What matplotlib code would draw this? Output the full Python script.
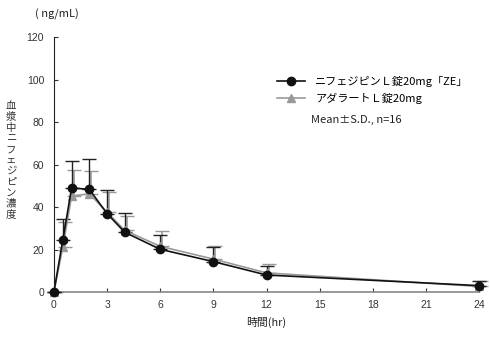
import numpy as np
import matplotlib
matplotlib.use('Agg')
import matplotlib.pyplot as plt
import matplotlib.transforms as mtransforms

plt.rcParams['font.family'] = ['Noto Sans CJK JP', 'DejaVu Sans']

# %% data
hours = [0, 0.5, 1, 2, 3, 4, 6, 9, 12, 24]
ze_mean = [0, 24.3, 49.0, 48.3, 36.9, 28.1, 20.1, 14.3, 8.0, 3.0]
ze_sd = [0, 10.2, 12.8, 14.1, 11.1, 8.9, 6.7, 6.7, 4.2, 2.3]
ref_mean = [0, 21.0, 45.2, 46.2, 37.6, 29.0, 21.5, 15.5, 9.0, 2.6]
ref_sd = [0, 12.0, 12.2, 10.8, 9.3, 7.0, 7.4, 6.3, 4.3, 2.4]

xticks = [0, 3, 6, 9, 12, 15, 18, 21, 24]
yticks = [0, 20, 40, 60, 80, 100, 120]

# %%
fig = plt.figure(figsize=(4.9, 3.37), dpi=100)
ax = fig.add_axes([0.110, 0.1335, 0.868, 0.7565])

shift = mtransforms.offset_copy(ax.transData, fig=fig, x=2, y=0, units='dots')

ax.errorbar(hours, ref_mean, yerr=[np.zeros(len(ref_sd)), ref_sd], fmt='none',
            ecolor='#999999', elinewidth=1.2, capsize=5, capthick=1.0,
            transform=shift, clip_on=False, zorder=2)
ax.errorbar(hours, ze_mean, yerr=[np.zeros(len(ze_sd)), ze_sd], fmt='none',
            ecolor='#222222', elinewidth=1.0, capsize=5, capthick=1.0,
            clip_on=False, zorder=3)

ax.plot(hours, ref_mean, color='#999999', lw=1.2, marker='^', ms=5.5,
        mfc='#999999', mec='#999999', clip_on=False, zorder=4,
        label='アダラートＬ錠20mg')
ax.plot(hours, ze_mean, color='#111111', lw=1.2, marker='o', ms=6,
        mfc='#111111', mec='#111111', clip_on=False, zorder=5,
        label='ニフェジピンＬ錠20mg「ZE」')

ax.set_xlim(0, 24)
ax.set_ylim(0, 120)
ax.set_xticks(xticks)
ax.set_yticks(yticks)
ax.tick_params(direction='in', length=3, labelsize=7.5, colors='#333333')
ax.tick_params(axis='y', pad=7)
ax.tick_params(axis='x', pad=6)
for lab in ax.get_xticklabels() + ax.get_yticklabels():
    lab.set_fontfamily(['Liberation Sans', 'DejaVu Sans'])
for s in ['top', 'right']:
    ax.spines[s].set_visible(False)
ax.spines['left'].set_color('#222222')
ax.spines['bottom'].set_color('#888888')
ax.spines['bottom'].set_linewidth(1.2)

h, l = ax.get_legend_handles_labels()
leg = ax.legend(h[::-1], l[::-1], loc='upper left', bbox_to_anchor=(0.50, 0.885),
                frameon=False, fontsize=8.0, handlelength=2.6, labelspacing=0.45,
                handletextpad=0.9)
ax.text(0.605, 0.675, 'Mean±S.D., n=16', transform=ax.transAxes, fontsize=8.0,
        va='center', color='#222222')

fig.text(0.072, 0.958, '( ng/mL)', fontsize=8, ha='left', va='center', color='#222222')
fig.text(0.543, 0.042, '時間(hr)', fontsize=7.8, ha='center', va='center', color='#222222')
fig.text(0.022, 0.525, '\n'.join('血漿中ニフェジピン濃度'), fontsize=7.5, ha='center',
         va='center', linespacing=1.1, color='#333333')

fig.savefig('out.png', dpi=100)
